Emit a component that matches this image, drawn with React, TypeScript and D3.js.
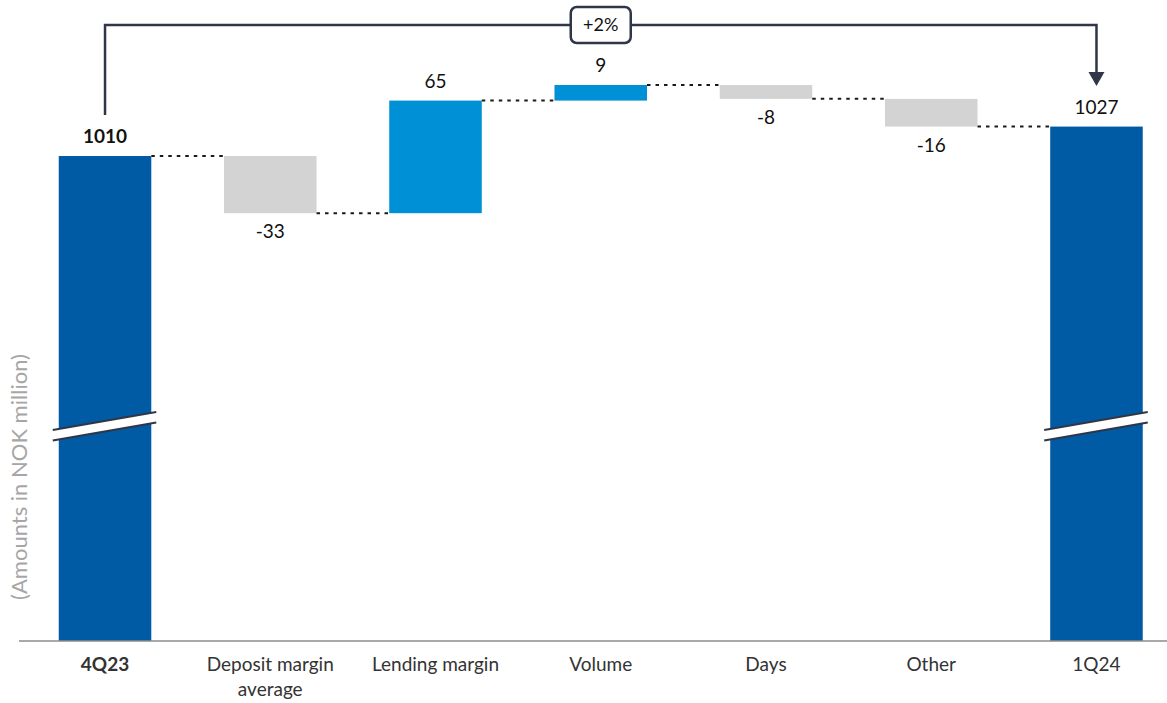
import React from "react";
import * as d3 from "d3";

const categories = ["4Q23", "Deposit margin\naverage", "Lending margin", "Volume", "Days", "Other", "1Q24"];
const values = [1010, -33, 65, 9, -8, -16, 1027];
const kinds = ["total", "delta", "delta", "delta", "delta", "delta", "total"];
const valueLabels = ["1010", "-33", "65", "9", "-8", "-16", "1027"];
const changeLabel = "+2%";
const axisTitle = "(Amounts in NOK million)";
const axisBase = 730;
const axisTop = 1051;
const breakValue = 857;

const W = 1167;
const H = 703;
const FONT = "Lato, 'Open Sans', sans-serif";
const C_TOTAL = "#005BA4";
const C_POS = "#0090D5";
const C_NEG = "#D3D3D3";
const C_DARK = "#2E3648";

export default function App() {
  const x = d3
    .scaleBand<number>()
    .domain(d3.range(categories.length))
    .range([22.4, 1179.1])
    .paddingInner(0.44)
    .paddingOuter(0.22);
  const y = d3.scaleLinear().domain([axisBase, axisTop]).range([641, 85]);
  const bw = x.bandwidth();

  let running = 0;
  const bars = values.map((v, i) => {
    let lo: number, hi: number, end: number;
    if (kinds[i] === "total") {
      lo = axisBase;
      hi = v;
      end = v;
    } else {
      const start = running;
      end = running + v;
      lo = Math.min(start, end);
      hi = Math.max(start, end);
    }
    running = end;
    const color = kinds[i] === "total" ? C_TOTAL : v >= 0 ? C_POS : C_NEG;
    return { i, lo, hi, end, v, color };
  });

  const cx = (i: number) => (x(i) as number) + bw / 2;
  const yBreak = y(breakValue);

  const leftX = cx(0);
  const rightX = cx(categories.length - 1);
  const bracketY = 25;
  const midX = (leftX + rightX) / 2;

  return (
    <svg
      width={W}
      height={H}
      style={{ position: "absolute", left: 0, top: 0, background: "#fff" }}
      fontFamily={FONT}
    >
      {bars.map((b) => (
        <rect
          key={"b" + b.i}
          x={x(b.i)}
          y={y(b.hi)}
          width={bw}
          height={y(b.lo) - y(b.hi)}
          fill={b.color}
        />
      ))}

      {bars.slice(0, -1).map((b) => (
        <line
          key={"c" + b.i}
          x1={(x(b.i) as number) + bw}
          x2={x(b.i + 1) as number}
          y1={y(b.end)}
          y2={y(b.end)}
          stroke="#1a1a1a"
          strokeWidth={2}
          strokeDasharray="3.5 5"
        />
      ))}

      {bars
        .filter((b) => kinds[b.i] === "total")
        .map((b) => {
          const x0 = (x(b.i) as number) - 6;
          const x1 = (x(b.i) as number) + bw + 5;
          const dy = 9;
          const topL = yBreak + dy;
          const topR = yBreak - dy;
          const gap = 10.5;
          return (
            <g key={"br" + b.i}>
              <polygon
                points={`${x0},${topL} ${x1},${topR} ${x1},${topR + gap} ${x0},${topL + gap}`}
                fill="#fff"
              />
              <line x1={x0} y1={topL} x2={x1} y2={topR} stroke={C_DARK} strokeWidth={2} />
              <line x1={x0} y1={topL + gap} x2={x1} y2={topR + gap} stroke={C_DARK} strokeWidth={2} />
            </g>
          );
        })}

      <line x1={19} x2={W} y1={641} y2={641} stroke="#8C8C8C" strokeWidth={1.5} />

      {categories.map((c, i) => (
        <text
          key={"t" + i}
          x={cx(i)}
          y={671}
          textAnchor="middle"
          fontSize={19}
          fill="#333"
          fontWeight={i === 0 ? 700 : 400}
        >
          {c.split("\n").map((line, j) => (
            <tspan key={j} x={cx(i)} dy={j === 0 ? 0 : 25}>
              {line}
            </tspan>
          ))}
        </text>
      ))}

      {bars.map((b) => {
        const above = kinds[b.i] === "total" || b.v >= 0;
        return (
          <text
            key={"v" + b.i}
            x={cx(b.i)}
            y={above ? y(b.hi) - 13 : y(b.lo) + 25}
            textAnchor="middle"
            fontSize={19}
            fill="#111"
            fontWeight={b.i === 0 ? 700 : 400}
          >
            {valueLabels[b.i]}
          </text>
        );
      })}

      <text
        transform={`translate(27,${477}) rotate(-90)`}
        textAnchor="middle"
        fontSize={22}
        fill="#A6A6A6"
      >
        {axisTitle}
      </text>

      <path
        d={`M${leftX},115 V${bracketY} H${rightX} V73`}
        fill="none"
        stroke={C_DARK}
        strokeWidth={2.5}
      />
      <polygon
        points={`${rightX - 8},72 ${rightX + 8},72 ${rightX},86`}
        fill={C_DARK}
      />
      <rect
        x={midX - 30}
        y={7}
        width={60}
        height={36}
        rx={6}
        fill="#fff"
        stroke={C_DARK}
        strokeWidth={2.5}
      />
      <text x={midX} y={31} textAnchor="middle" fontSize={18} fill="#111">
        {changeLabel}
      </text>
    </svg>
  );
}
